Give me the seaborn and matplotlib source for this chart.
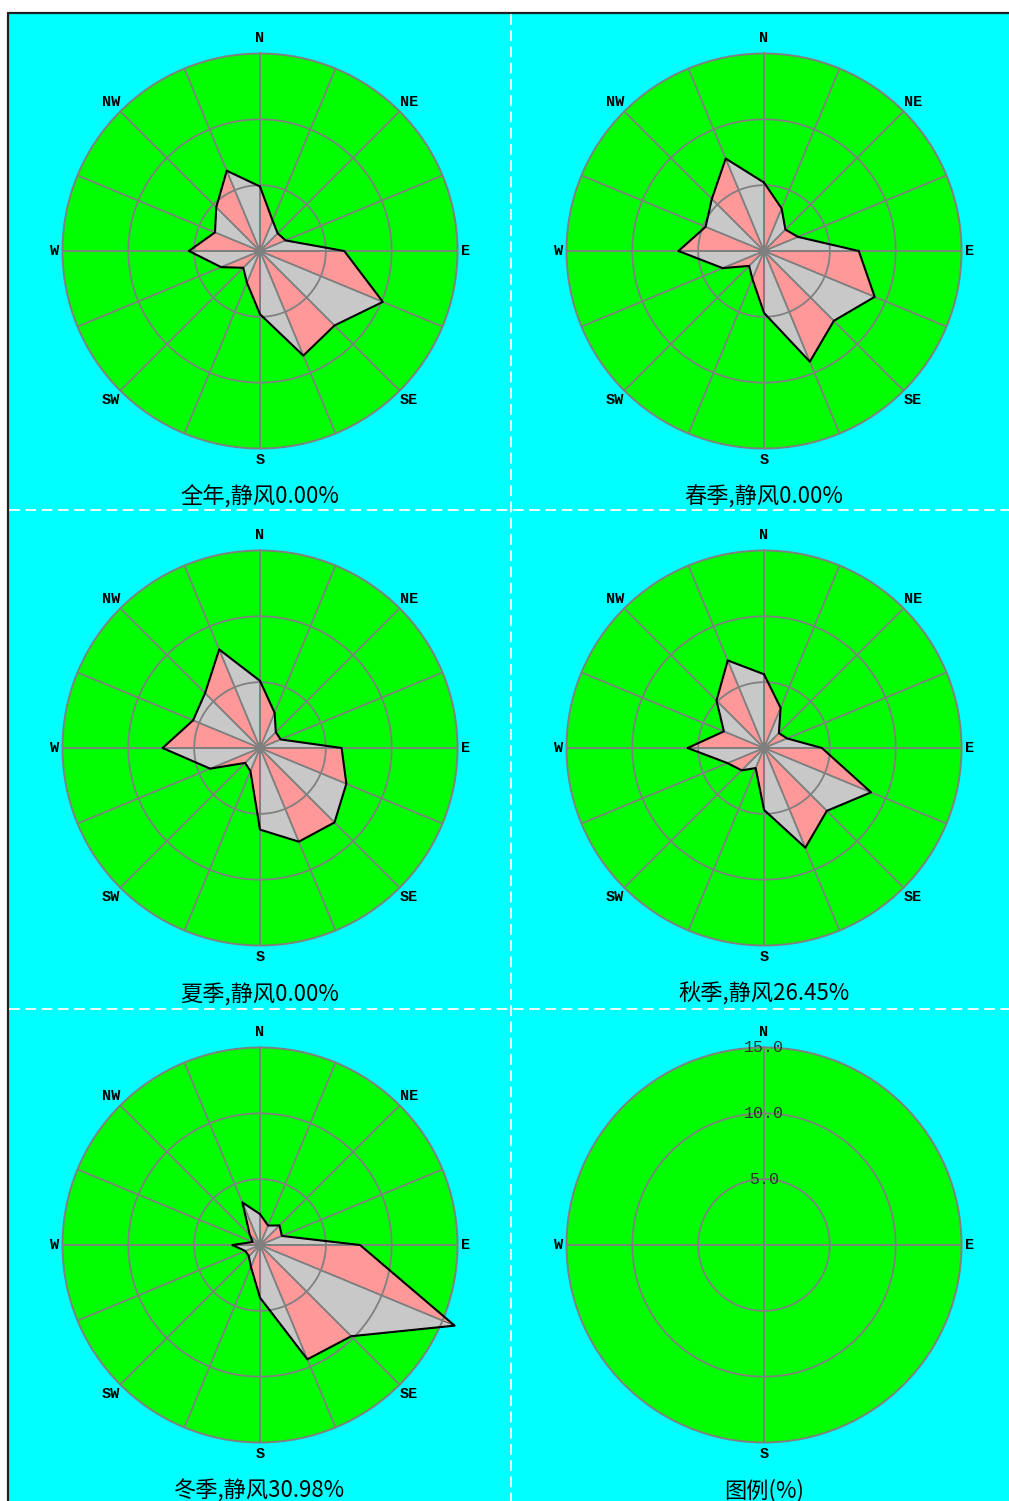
import numpy as np
import pandas as pd
import matplotlib
matplotlib.use("Agg")
import matplotlib.pyplot as plt
import seaborn as sns

# ---------------- data ----------------
directions = ['N', 'NNE', 'NE', 'ENE', 'E', 'ESE', 'SE', 'SSE',
              'S', 'SSW', 'SW', 'WSW', 'W', 'WNW', 'NW', 'NNW']
annual = [4.9, 2.5, 1.9, 2.1, 6.4, 10.1, 8.0, 8.6, 4.8, 2.6, 1.8, 3.2, 5.4, 3.7, 4.7, 6.6]
spring = [5.2, 3.5, 2.3, 2.8, 7.2, 9.1, 7.5, 9.1, 4.7, 2.3, 1.6, 3.4, 6.5, 4.8, 5.6, 7.6]
summer = [5.1, 2.9, 1.7, 1.7, 6.2, 7.1, 8.0, 7.7, 6.2, 1.9, 1.6, 4.1, 7.4, 5.5, 5.9, 8.1]
autumn = [5.6, 3.3, 1.6, 1.9, 4.4, 8.8, 6.75, 8.2, 4.7, 1.65, 2.4, 3.0, 5.8, 3.3, 5.1, 7.2]
winter = [2.35, 1.6, 2.1, 1.8, 7.6, 16.0, 9.8, 9.4, 4.0, 1.8, 1.2, 1.2, 2.1, 0.6, 1.1, 3.5]
panel_titles = ['全年,静风0.00%', '春季,静风0.00%', '夏季,静风0.00%',
                '秋季,静风26.45%', '冬季,静风30.98%']
legend_title = '图例(%)'
ring_values = [5, 10, 15]
ring_labels = ['5.0', '10.0', '15.0']
compass_labels = ['N', 'NE', 'E', 'SE', 'S', 'SW', 'W', 'NW']
legend_labels = ['N', 'E', 'S', 'W']

series = [annual, spring, summer, autumn, winter]

# ---------------- style ----------------
sns.set_theme(style="white")
plt.rcParams['font.family'] = ['Noto Sans CJK SC', 'DejaVu Sans']

W, H = 1009, 1501
R = 197.5
CYAN = '#00FFFF'
GREEN = '#00FF00'
PINK = '#FF9999'
GREY = '#C8C8C8'
GRID = '#808080'
RMAX = 15

fig = plt.figure(figsize=(W / 100, H / 100), dpi=100, facecolor='white')

# background axes in pixel coordinates
bg = fig.add_axes([0, 0, 1, 1])
bg.set_xlim(0, W)
bg.set_ylim(H, 0)
bg.axis('off')
bg.add_patch(plt.Rectangle((8, 13), W - 8, H - 13, facecolor=CYAN, edgecolor='none'))
bg.plot([8, W], [13, 13], color='#202020', lw=1.6)
bg.plot([8, 8], [13, H], color='#202020', lw=1.6)
for yy in (510, 1009):
    bg.plot([9, W], [yy, yy], color='white', lw=1.3, linestyle=(0, (6, 3)))
bg.plot([511, 511], [14, H], color='white', lw=1.3, linestyle=(0, (6, 3)))

centers = [(260, 251), (764, 251), (260, 748), (764, 748), (260, 1245), (764, 1245)]

theta16 = np.deg2rad(np.arange(16) * 22.5)
label_angle = {'N': 0, 'NE': 45, 'E': 90, 'SE': 135, 'S': 180, 'SW': 225, 'W': 270, 'NW': 315}
label_r = {'N': 16.2, 'NE': 16.0, 'E': 15.6, 'SE': 16.0, 'S': 15.9, 'SW': 16.0, 'W': 15.6, 'NW': 16.0}
circ = np.linspace(0, 2 * np.pi, 361)
LABEL_FONT = ['Liberation Mono', 'DejaVu Sans Mono']
TITLE_FONT = ['Noto Sans CJK SC', 'DejaVu Sans']


def make_ax(cx, cy):
    ax = fig.add_axes([(cx - R) / W, 1 - (cy + R) / H, 2 * R / W, 2 * R / H],
                      projection='polar')
    ax.set_theta_zero_location('N')
    ax.set_theta_direction(-1)
    ax.set_facecolor(GREEN)
    ax.grid(False)
    ax.set_xticks([])
    ax.set_yticks([])
    ax.spines['polar'].set_edgecolor(GRID)
    ax.spines['polar'].set_linewidth(1.4)
    return ax


for k, vals in enumerate(series):
    cx, cy = centers[k]
    ax = make_ax(cx, cy)
    v = np.array(vals, dtype=float)
    # alternating triangles
    for i in range(16):
        j = (i + 1) % 16
        th_j = theta16[j] if j != 0 else 2 * np.pi
        col = PINK if i % 2 == 0 else GREY
        ax.fill([0, theta16[i], th_j], [0, v[i], v[j]], facecolor=col,
                edgecolor='#505050', linewidth=0.6, clip_on=False, zorder=2)
    # grid on top
    for th in theta16:
        ax.plot([th, th], [0, RMAX], color=GRID, lw=1.3, zorder=3)
    for rv in ring_values[:-1]:
        ax.plot(circ, np.full_like(circ, rv), color=GRID, lw=1.3, zorder=3)
    # outline via seaborn
    df = pd.DataFrame({'theta': np.append(theta16, 2 * np.pi),
                       'r': np.append(v, v[0])})
    sns.lineplot(data=df, x='theta', y='r', sort=False, estimator=None,
                 color='black', lw=1.5, ax=ax, clip_on=False, zorder=4)
    ax.set_xlabel('')
    ax.set_ylabel('')
    ax.set_ylim(0, RMAX)
    ax.set_xticks([])
    ax.set_yticks([])
    for lab in compass_labels:
        ax.text(np.deg2rad(label_angle[lab]), label_r[lab], lab, ha='center', va='center',
                family=LABEL_FONT, fontsize=11, fontweight='bold', color='black',
                clip_on=False)
    fig.text(cx / W, 1 - (cy + 246) / H, panel_titles[k], ha='center', va='center',
             fontsize=16, family=TITLE_FONT, color='black')

# legend panel
cx, cy = centers[5]
ax = make_ax(cx, cy)
for th in np.deg2rad([0, 90, 180, 270]):
    ax.plot([th, th], [0, RMAX], color=GRID, lw=1.3, zorder=3)
for rv in ring_values[:-1]:
    ax.plot(circ, np.full_like(circ, rv), color=GRID, lw=1.3, zorder=3)
ax.set_ylim(0, RMAX)
for lab in legend_labels:
    ax.text(np.deg2rad(label_angle[lab]), label_r[lab], lab, ha='center', va='center',
            family=LABEL_FONT, fontsize=11, fontweight='bold', color='black',
            clip_on=False)
for rv, rl in zip(ring_values, ring_labels):
    ax.text(0, rv, rl, ha='center', va='center', family=LABEL_FONT,
            fontsize=12, color='#303030', clip_on=False, zorder=5)
fig.text(cx / W, 1 - (cy + 246) / H, legend_title, ha='center', va='center',
         fontsize=16, family=TITLE_FONT, color='black')

fig.savefig('out.png', dpi=100, facecolor='white')
